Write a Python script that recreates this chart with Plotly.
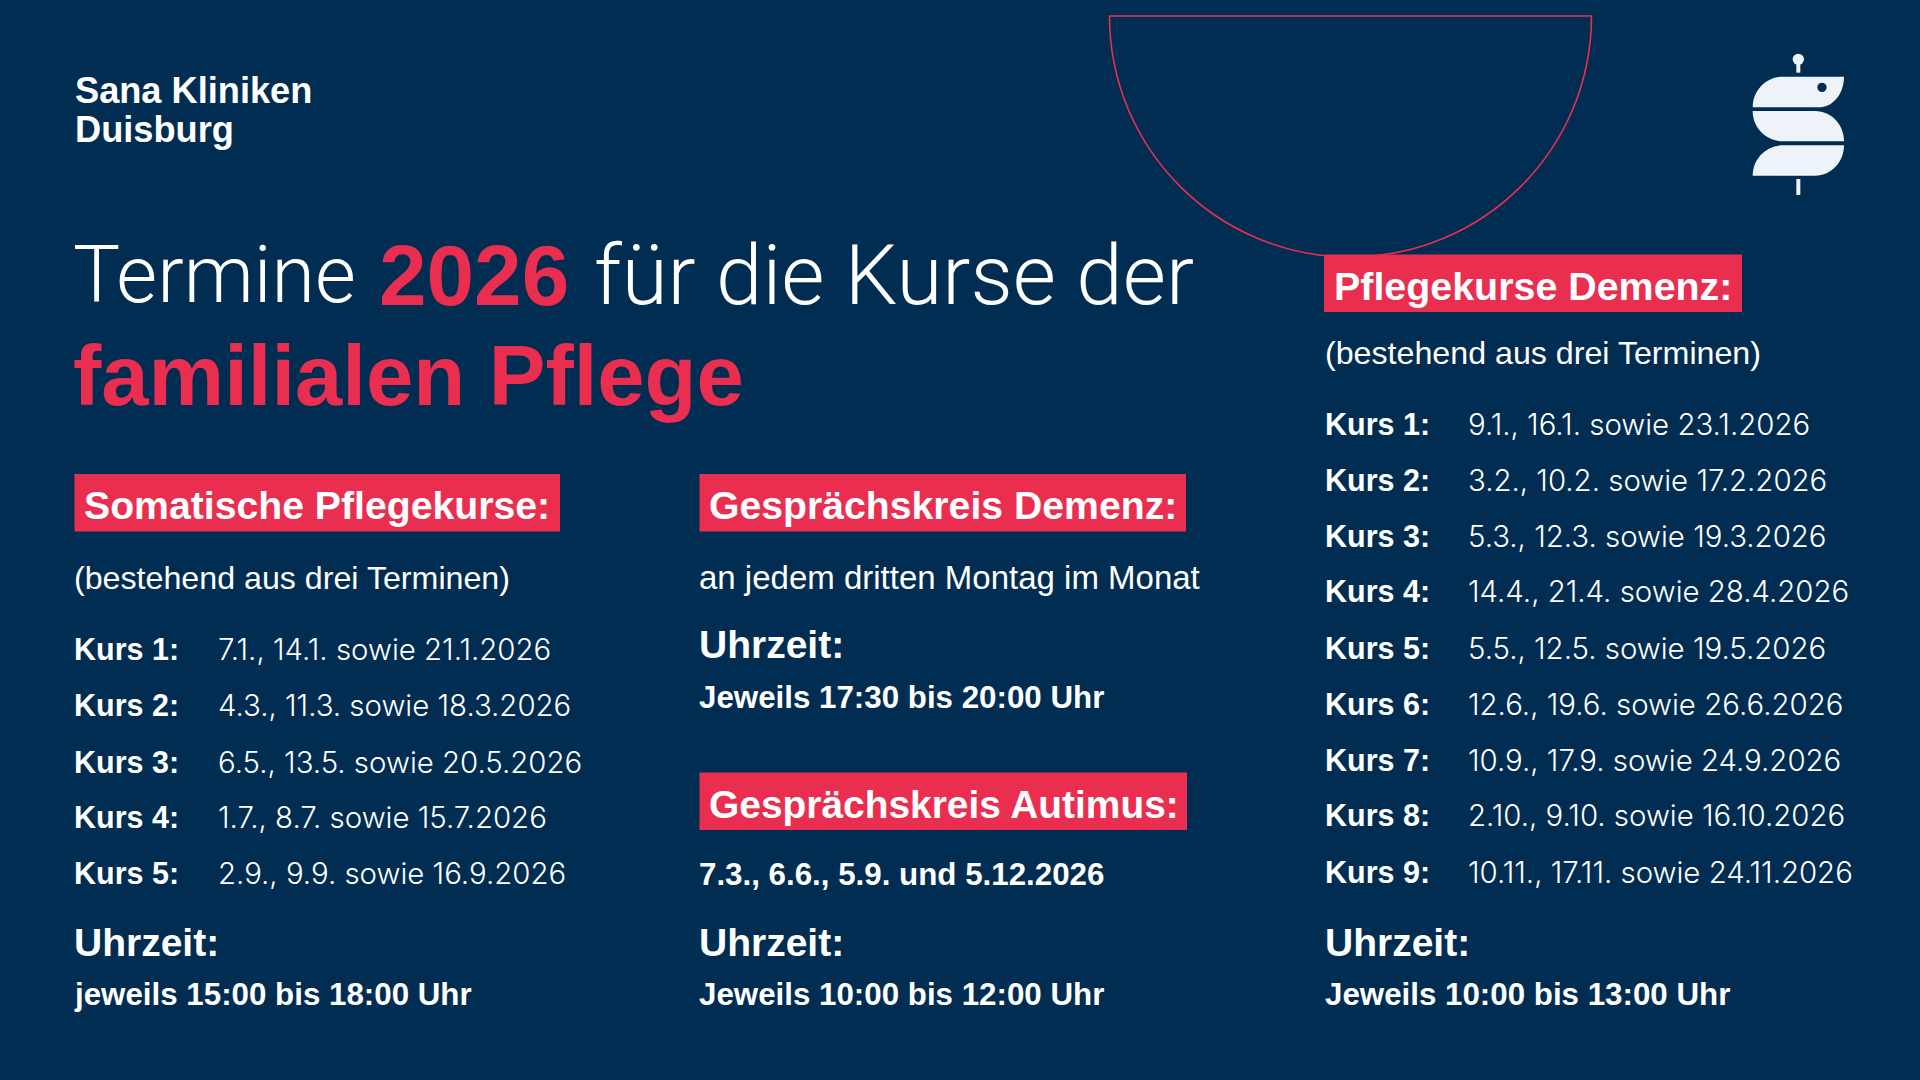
import plotly.graph_objects as go

NAVY = '#012D52'
RED = '#E92E50'
WHITE = '#FFFFFF'
LOGO = '#EEF3FA'
SANS = 'Liberation Sans'

# Texts
brand_lines = ['Sana Kliniken', 'Duisburg']
title_line1 = ['Termine', '2026', 'für die Kurse der']
title_line2 = 'familialen Pflege'

somatic_head = 'Somatische Pflegekurse:'
somatic_sub = '(bestehend aus drei Terminen)'
somatic_dates = ['7.1., 14.1. sowie 21.1.2026', '4.3., 11.3. sowie 18.3.2026', '6.5., 13.5. sowie 20.5.2026',
	'1.7., 8.7. sowie 15.7.2026', '2.9., 9.9. sowie 16.9.2026']
somatic_time = 'jeweils 15:00 bis 18:00 Uhr'

talk_dem_head = 'Gesprächskreis Demenz:'
talk_dem_sub = 'an jedem dritten Montag im Monat'
talk_dem_time = 'Jeweils 17:30 bis 20:00 Uhr'
talk_aut_head = 'Gesprächskreis Autimus:'
talk_aut_sub = '7.3., 6.6., 5.9. und 5.12.2026'
talk_aut_time = 'Jeweils 10:00 bis 12:00 Uhr'

dem_head = 'Pflegekurse Demenz:'
dem_sub = '(bestehend aus drei Terminen)'
dem_dates = ['9.1., 16.1. sowie 23.1.2026', '3.2., 10.2. sowie 17.2.2026', '5.3., 12.3. sowie 19.3.2026',
	'14.4., 21.4. sowie 28.4.2026', '5.5., 12.5. sowie 19.5.2026', '12.6., 19.6. sowie 26.6.2026',
	'10.9., 17.9. sowie 24.9.2026', '2.10., 9.10. sowie 16.10.2026', '10.11., 17.11. sowie 24.11.2026']
dem_time = 'Jeweils 10:00 bis 13:00 Uhr'

fig = go.Figure()
fig.update_layout(width=1920, height=1080, margin=dict(l=0, r=0, t=0, b=0), paper_bgcolor=NAVY, plot_bgcolor=NAVY,
	showlegend=False,
	xaxis=dict(range=[0, 1920], visible=False, fixedrange=True),
	yaxis=dict(range=[1080, 0], visible=False, fixedrange=True))

def text(x, y, s, size, bold=False, family=SANS, weight=None, color=WHITE):
	fig.add_annotation(x=x, y=y, text=s, showarrow=False, xanchor='left', yanchor='middle', borderpad=0, borderwidth=0,
		font=dict(family=family, size=size, color=color, weight=weight if weight else (700 if bold else 400)))

def box(x0, y0, x1, y1, label, size=39.2, pad=9):
	fig.add_shape(type='rect', x0=x0, y0=y0, x1=x1, y1=y1, fillcolor=RED, line_width=0, layer='above')
	text(x0 + pad, (y0 + y1) / 2 + 3, label, size, True)

def kurs_rows(x, date_x, ys, dates):
	for i, d in enumerate(dates):
		text(x, ys[i], f'<b>Kurs {i + 1}:</b>', 30.5)
		text(date_x, ys[i], d, 29.4, family='Inter', weight=300)

# Semicircle (cubic beziers, plotly paths have no arc)
k = 0.5523 * 241
cx, cy, r = 1350.5, 16, 241
fig.add_shape(type='path', path=f'M {cx - r} {cy} L {cx + r} {cy} C {cx + r} {cy + k} {cx + k} {cy + r} {cx} {cy + r} '
	f'C {cx - k} {cy + r} {cx - r} {cy + k} {cx - r} {cy} Z', line=dict(color=RED, width=1.6), fillcolor='rgba(0,0,0,0)')

# Logo
def lx(v): return 1720 + v / 3
def ly(v): return 30 + v / 3
logo_paths = [
	f'M {lx(372)} {ly(140)} L {lx(190)} {ly(140)} C {lx(140)} {ly(140)} {lx(98)} {ly(180)} {lx(98)} {ly(232)} L {lx(295)} {ly(232)} C {lx(340)} {ly(232)} {lx(372)} {ly(190)} {lx(372)} {ly(140)} Z',
	f'M {lx(98)} {ly(243)} L {lx(285)} {ly(243)} C {lx(335)} {ly(243)} {lx(372)} {ly(285)} {lx(372)} {ly(334)} L {lx(190)} {ly(334)} C {lx(140)} {ly(334)} {lx(98)} {ly(295)} {lx(98)} {ly(243)} Z',
	f'M {lx(372)} {ly(346)} L {lx(190)} {ly(346)} C {lx(140)} {ly(346)} {lx(98)} {ly(385)} {lx(98)} {ly(437)} L {lx(285)} {ly(437)} C {lx(335)} {ly(437)} {lx(372)} {ly(395)} {lx(372)} {ly(346)} Z',
]
for p in logo_paths:
	fig.add_shape(type='path', path=p, fillcolor=LOGO, line_width=0)
fig.add_shape(type='circle', x0=lx(218), y0=ly(71), x1=lx(252), y1=ly(105), fillcolor=LOGO, line_width=0)
fig.add_shape(type='rect', x0=lx(229), y0=ly(100), x1=lx(241), y1=ly(128), fillcolor=LOGO, line_width=0)
fig.add_shape(type='rect', x0=lx(229), y0=ly(447), x1=lx(241), y1=ly(495), fillcolor=LOGO, line_width=0)
fig.add_shape(type='circle', x0=lx(292), y0=ly(158), x1=lx(320), y1=ly(186), fillcolor=NAVY, line_width=0)

# Header
text(74.5, 90, brand_lines[0], 36.2, True)
text(74.5, 129, brand_lines[1], 36.2, True)
text(73, 275, title_line1[0], 79, family='Roboto', weight=300)
text(378.5, 275, title_line1[1], 85.5, True, color=RED)
text(594, 275, title_line1[2], 83.5, family='Roboto', weight=300)
text(72.5, 375, title_line2, 85, True, color=RED)

# Left column
box(74.5, 474, 560, 531.5, somatic_head)
text(74, 578, somatic_sub, 32.2)
kurs_rows(74, 218, [649, 705, 762, 817, 873], somatic_dates)
text(74, 942.5, 'Uhrzeit:', 39, True)
text(74, 994, somatic_time, 31.3, True)

# Middle column
box(699.5, 474, 1186, 531.5, talk_dem_head)
text(699, 577, talk_dem_sub, 33)
text(699, 644.5, 'Uhrzeit:', 39, True)
text(699, 697, talk_dem_time, 31.3, True)
box(699.5, 772.5, 1187, 830, talk_aut_head, size=38.9)
text(699, 874, talk_aut_sub, 31.3, True)
text(699, 942.5, 'Uhrzeit:', 39, True)
text(699, 994, talk_aut_time, 31.3, True)

# Right column
box(1324, 254.5, 1742, 312, dem_head, size=39.4, pad=10)
text(1324.5, 353, dem_sub, 32.2)
kurs_rows(1324.5, 1468, [424, 480, 536, 591, 648, 704, 760, 815, 872], dem_dates)
text(1324.5, 942.5, 'Uhrzeit:', 39, True)
text(1324.5, 994, dem_time, 31.3, True)

fig.write_html("out.html", config=dict(displayModeBar=False), post_script="document.body.style.margin='0';")
